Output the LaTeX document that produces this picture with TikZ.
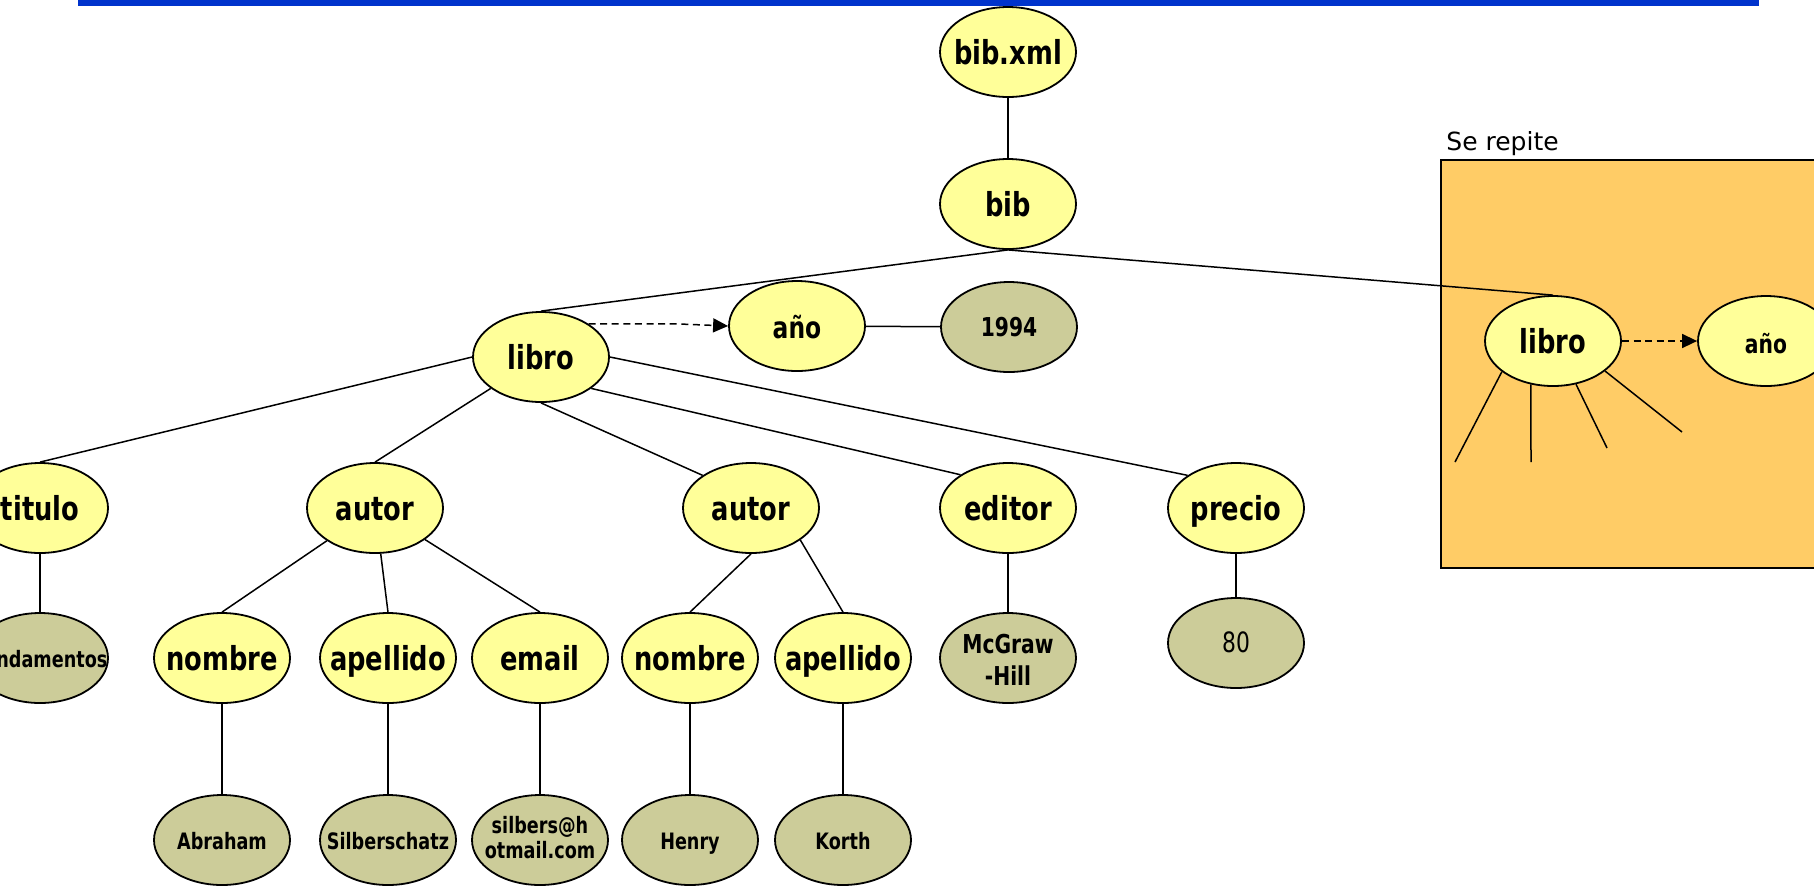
\documentclass[tikz,border=0pt]{standalone}
\usepackage{fontspec}
\setmainfont{DejaVu Sans}
\newfontfamily\lblfont{DejaVu Sans}[FakeStretch=0.78]
\usepackage{tikz}
\usetikzlibrary{shapes.geometric, arrows.meta}
\usepackage{xcolor}

\definecolor{elemyellow}{RGB}{255,255,153}
\definecolor{valolive}{RGB}{204,204,153}
\definecolor{boxorange}{RGB}{255,204,102}
\definecolor{barblue}{RGB}{0,51,204}

\tikzset{
  oval/.style={ellipse, draw, line width=0.9pt, minimum width=68pt, minimum height=45pt, inner xsep=-15pt, inner ysep=0pt},
  elem/.style={oval, fill=elemyellow, font=\lblfont\bfseries\fontsize{16.5}{18}\selectfont, text height=13pt, text depth=1pt},
  valor/.style={oval, fill=valolive, font=\lblfont\bfseries\fontsize{11.3}{13}\selectfont, text height=10pt, text depth=0.5pt},
  valortwo/.style={oval, fill=valolive},
  link/.style={line width=0.75pt},
  refarrow/.style={line width=0.75pt, dash pattern=on 3.5pt off 2.3pt, -{Triangle[length=7.5pt,width=7pt]}},
}

\begin{document}
\begin{tikzpicture}[x=0.5pt,y=0.5pt,yscale=-1,xscale=1]
\path[use as bounding box] (0,0) rectangle (1814,885);

%Bar and box
\fill[barblue] (78,0) rectangle (1759,6);
\draw[line width=0.9pt, fill=boxorange] (1441,160) rectangle (1840,568);
\node[anchor=base west, font=\fontsize{12.5}{14}\selectfont, inner sep=0pt] (serepite) at (1446,150) {Se repite};

%Elements
\node[elem] (bibxml) at (1008,52) {bib.xml};
\node[elem] (bib) at (1008,204) {bib};
\node[elem] (libro) at (541,357) {libro};
\node[elem, font=\lblfont\bfseries\fontsize{15}{17}\selectfont] (ano) at (797,326) {año};
\node[valor, font=\lblfont\bfseries\fontsize{13}{15}\selectfont] (anyo) at (1009,327) {1994};
\node[elem] (titulo) at (40,508) {titulo};
\node[elem] (autorA) at (375,508) {autor};
\node[elem] (autorB) at (751,508) {autor};
\node[elem] (editor) at (1008,508) {editor};
\node[elem] (precio) at (1236,508) {precio};
\node[elem] (nombreA) at (222,658) {nombre};
\node[elem] (apellidoA) at (388,658) {apellido};
\node[elem] (email) at (540,658) {email};
\node[elem] (nombreB) at (690,658) {nombre};
\node[elem] (apellidoB) at (843,658) {apellido};

%Values
\node[valor] (fund) at (40,658) {Fundamentos};
\node[valortwo, font=\lblfont\bfseries\fontsize{13}{16}\selectfont, text height=27.5pt, text depth=0.5pt] (mcgraw) at (1008,658)
  {\begin{tabular}[b]{@{}c@{}}McGraw\\-Hill\end{tabular}};
\node[valor, font=\lblfont\fontsize{14}{16}\selectfont] (ochenta) at (1236,643) {80};
\node[valor] (abraham) at (222,840) {Abraham};
\node[valor] (silber) at (388,840) {Silberschatz};
\node[valortwo, font=\lblfont\bfseries\fontsize{11.3}{12.5}\selectfont, text height=18.5pt, text depth=0.5pt] (correo) at (540,840)
  {\begin{tabular}[b]{@{}c@{}}silbers@h\\otmail.com\end{tabular}};
\node[valor] (henry) at (690,840) {Henry};
\node[valor] (korth) at (843,840) {Korth};

%Repeated book
\node[elem] (libroB) at (1553,341) {libro};
\node[elem, font=\lblfont\bfseries\fontsize{13}{15}\selectfont] (anoB) at (1766,341) {año};
\coordinate (stubA) at (1455,462);
\coordinate (stubB) at (1531,462);
\coordinate (stubC) at (1607,448);
\coordinate (stubD) at (1682,432);

%Straight Lines
\draw[link] (bibxml) -- (bib);
\draw[link] (bib.south) -- (libro.north);
\draw[link] (bib.south) -- (libroB.north);
\draw[link] (libro.west) -- (titulo.north);
\draw[link] (libro.212) -- (autorA.north);
\draw[link] (libro.south) -- (autorB.146);
\draw[link] (libro.328) -- (editor.145);
\draw[link] (libro.east) -- (precio.146);
\draw[link] (ano) -- (anyo);
\draw[link] (titulo) -- (fund);
\draw[link] (autorA) -- (nombreA.north);
\draw[link] (autorA) -- (apellidoA.north);
\draw[link] (autorA) -- (email.north);
\draw[link] (autorB.south) -- (nombreB.north);
\draw[link] (autorB.327) -- (apellidoB.north);
\draw[link] (editor) -- (mcgraw);
\draw[link] (precio) -- (ochenta);
\draw[link] (nombreA) -- (abraham);
\draw[link] (apellidoA) -- (silber);
\draw[link] (email) -- (correo);
\draw[link] (nombreB) -- (henry);
\draw[link] (apellidoB) -- (korth);
\draw[link] (libroB.211) -- (stubA);
\draw[link] (libroB.243) -- (stubB);
\draw[link] (libroB.298) -- (stubC);
\draw[link] (libroB.330) -- (stubD);

%Dashed arrows
\draw[refarrow] (libro.35) -- ++(85,0) -- (ano.west);
\draw[refarrow] (libroB.east) -- (anoB.west);

\end{tikzpicture}
\end{document}
